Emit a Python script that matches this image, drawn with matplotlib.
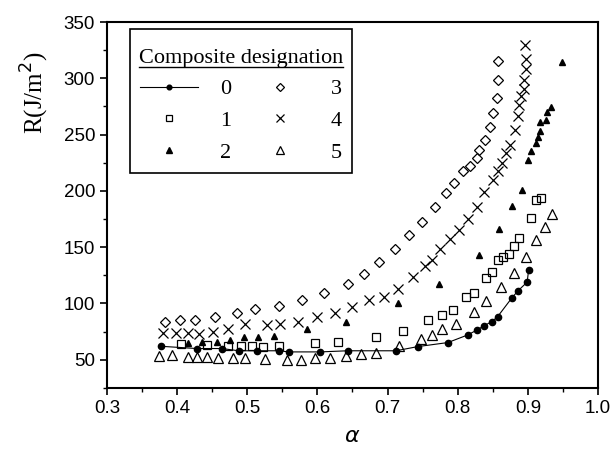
import numpy as np
import matplotlib
matplotlib.use("Agg")
import matplotlib.pyplot as plt
from matplotlib.ticker import MultipleLocator
from matplotlib.lines import Line2D
from matplotlib.patches import Rectangle

# composite 0 (line + filled circles)
a0 = [0.377, 0.428, 0.464, 0.488, 0.514, 0.546, 0.559, 0.604, 0.643, 0.712, 0.743,
      0.786, 0.814, 0.828, 0.838, 0.849, 0.857, 0.877, 0.886, 0.899, 0.901]
r0 = [62, 60, 60, 58, 58, 58, 57, 57, 58, 58, 61.7,
      65.3, 72, 76.6, 80.4, 84, 88.4, 104.8, 111.3, 119, 129.4]

# composite 1 (open squares)
a1 = [0.405, 0.443, 0.472, 0.491, 0.507, 0.523, 0.546, 0.597, 0.629, 0.683, 0.722,
      0.757, 0.778, 0.794, 0.812, 0.823, 0.840, 0.849, 0.858, 0.864, 0.873, 0.880,
      0.887, 0.904, 0.911, 0.919]
r1 = [63.9, 63.3, 62.4, 62.6, 62.4, 61.7, 62.4, 64.8, 66.2, 69.8, 76,
      85.5, 90, 93.8, 105.7, 109.3, 122.6, 127.6, 138.9, 140.9, 143.9, 150.7,
      158.2, 176, 192, 194]

# composite 2 (filled triangles)
a2 = [0.415, 0.435, 0.457, 0.475, 0.496, 0.515, 0.538, 0.585, 0.641, 0.715, 0.774,
      0.830, 0.859, 0.878, 0.891, 0.900, 0.905, 0.911, 0.914, 0.917, 0.918, 0.926,
      0.927, 0.933, 0.949]
r2 = [65.3, 66.2, 66.2, 67.7, 70.1, 69.8, 71.3, 77.2, 84, 100.4, 117.3,
      142.7, 166.5, 186.3, 201, 227.8, 235.2, 242.1, 248, 253, 261.4, 262.8,
      270.3, 274.7, 314.4]

# composite 3 (open diamonds)
a3 = [0.383, 0.404, 0.425, 0.454, 0.485, 0.511, 0.545, 0.578, 0.610, 0.643, 0.667,
      0.688, 0.711, 0.730, 0.749, 0.768, 0.784, 0.795, 0.808, 0.817, 0.828, 0.831,
      0.839, 0.846, 0.850, 0.856, 0.857, 0.857]
r3 = [84, 84.9, 85.5, 87.9, 91.5, 95, 98, 103.3, 109.3, 117.5, 126.4,
      136.5, 148.4, 160.5, 172.4, 185.8, 198.2, 207, 217.4, 221.9, 229.4, 236.7,
      245.6, 256.6, 269.4, 282.7, 298.4, 315.3]

# composite 4 (crosses)
a4 = [0.380, 0.399, 0.416, 0.432, 0.452, 0.472, 0.497, 0.528, 0.547, 0.573, 0.599,
      0.625, 0.650, 0.673, 0.695, 0.715, 0.736, 0.753, 0.763, 0.775, 0.789, 0.802,
      0.815, 0.828, 0.838, 0.850, 0.857, 0.863, 0.869, 0.874, 0.882, 0.886, 0.888,
      0.890, 0.894, 0.895, 0.897, 0.898, 0.896]
r4 = [73.7, 74.2, 74.2, 72.8, 75.1, 77.5, 81.7, 81, 82, 84, 87.9,
      91.5, 96.8, 102.7, 106.2, 112.8, 123.5, 133, 138.9, 148.4, 157.3, 165.6,
      175.1, 186, 198.8, 210, 218, 225, 233.8, 240.6, 254.5, 266.4, 275.9,
      284.2, 290.1, 298.4, 307.9, 317.4, 329.3]

# composite 5 (open triangles)
a5 = [0.375, 0.393, 0.415, 0.429, 0.443, 0.458, 0.480, 0.497, 0.526, 0.557, 0.576,
      0.596, 0.618, 0.641, 0.662, 0.683, 0.716, 0.747, 0.763, 0.778, 0.797, 0.823,
      0.841, 0.862, 0.880, 0.897, 0.912, 0.924, 0.935]
r5 = [53.5, 54.4, 52.3, 52.3, 52.3, 52, 51.4, 51.4, 50.5, 49.9, 49.9,
      51.4, 51.4, 53.5, 55.2, 56.4, 62.6, 68.3, 72.2, 77.2, 82, 92,
      101.8, 114.6, 127, 141.3, 156, 168, 179.8]

labels = ['0', '1', '2', '3', '4', '5']

plt.rcParams['font.family'] = 'Liberation Sans'
fig = plt.figure(figsize=(6.14, 4.49), dpi=100)
ax = fig.add_axes([0.174, 0.136, 0.8, 0.815])

ax.plot(a0, r0, '-', color='black', lw=0.8, marker='o', ms=4.5, label=labels[0])
ax.plot(a1, r1, 's', mfc='none', mec='black', mew=0.9, ms=6, ls='none', label=labels[1])
ax.plot(a2, r2, '^', color='black', ms=5, ls='none', label=labels[2])
ax.plot(a3, r3, 'D', mfc='none', mec='black', mew=0.9, ms=5.5, ls='none', label=labels[3])
ax.plot(a4, r4, 'x', color='black', mew=0.9, ms=7, ls='none', label=labels[4])
ax.plot(a5, r5, '^', mfc='none', mec='black', mew=0.9, ms=7, ls='none', label=labels[5])

ax.set_xlim(0.3, 1.0)
ax.set_ylim(25, 350)
ax.xaxis.set_major_locator(MultipleLocator(0.1))
ax.xaxis.set_minor_locator(MultipleLocator(0.05))
ax.yaxis.set_minor_locator(MultipleLocator(25))
ax.set_yticks(np.arange(50, 351, 50))
ax.tick_params(which='major', direction='out', length=5, width=1.2, labelsize=13.5)
ax.tick_params(which='minor', direction='out', length=3, width=1)
for s in ax.spines.values():
    s.set_linewidth(1.5)

ax.set_xlabel(r'$\alpha$', fontsize=16, labelpad=7)
ax.set_ylabel(r'R(J/m$^2$)', fontsize=18, family='Liberation Serif')
ax.yaxis.set_label_coords(-0.113, 0.806)

# legend frame drawn separately so the title sits lower inside it
ax.add_patch(Rectangle((0.0475, 0.587), 0.452, 0.394, transform=ax.transAxes,
                       fill=False, edgecolor='black', lw=1.2, zorder=4))
leg = ax.legend(ncol=2, loc='upper left', bbox_to_anchor=(0.047, 0.951),
                borderaxespad=0, title='Composite designation', frameon=False,
                handlelength=2.6, handletextpad=1.0, columnspacing=0.9,
                borderpad=0.4, labelspacing=0.5, markerscale=0.75,
                prop={'family': 'Liberation Serif', 'size': 16})
leg.get_title().set_fontfamily('Liberation Serif')
leg.get_title().set_fontsize(16)

fig.canvas.draw()
bb = leg.get_title().get_window_extent()
fig.add_artist(Line2D([bb.x0, bb.x1], [bb.y0 + 1, bb.y0 + 1], color='black', lw=1,
                      transform=None))

fig.savefig('out.png', dpi=100)
